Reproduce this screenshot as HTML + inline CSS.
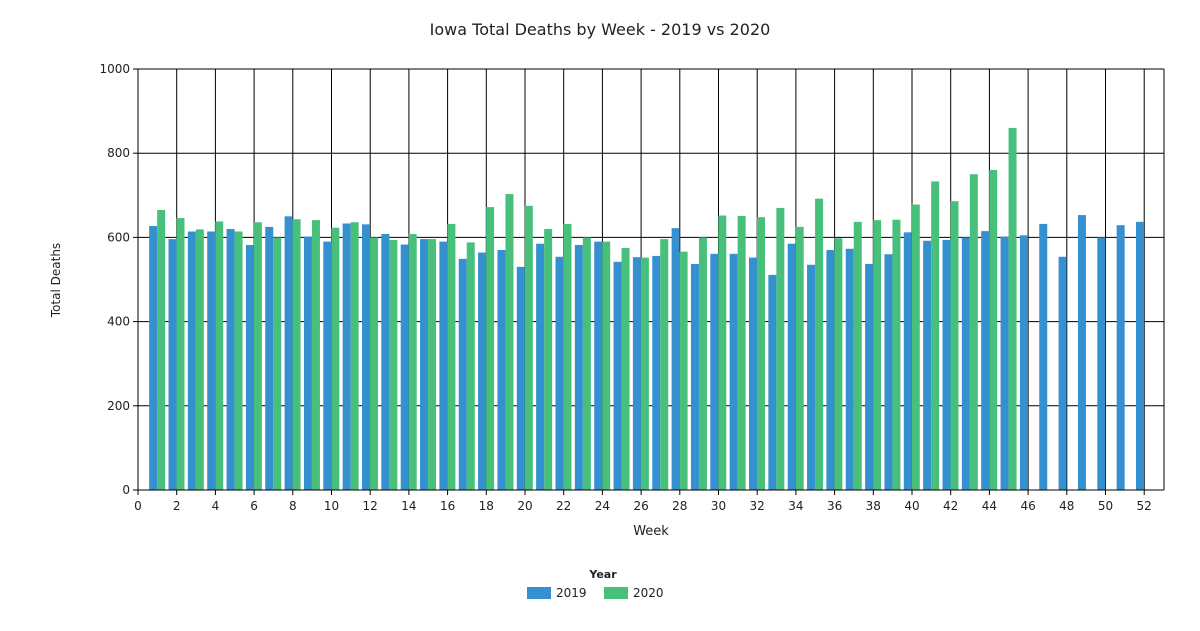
<!DOCTYPE html>
<html><head><style>
body{margin:0;background:#fff;font-family:"DejaVu Sans","Liberation Sans",sans-serif;}
</style></head><body>
<svg id="s" width="1200" height="627" xmlns="http://www.w3.org/2000/svg" font-family="DejaVu Sans, Liberation Sans, sans-serif">
<text x="600" y="35" text-anchor="middle" font-size="16" fill="#222">Iowa Total Deaths by Week - 2019 vs 2020</text>
<text x="60" y="280" text-anchor="middle" font-size="12" fill="#222" transform="rotate(-90 60 280)">Total Deaths</text>
<text x="651" y="535" text-anchor="middle" font-size="13" fill="#222">Week</text>
<text x="603" y="578" text-anchor="middle" font-size="11" font-weight="bold" fill="#222">Year</text>
<rect x="527" y="587" width="24" height="12" fill="#3590d0"/>
<text x="556" y="597" font-size="12" fill="#222">2019</text>
<rect x="604" y="587" width="24" height="12" fill="#48c07c"/>
<text x="633" y="597" font-size="12" fill="#222">2020</text>
<g id="g"></g>
</svg>
<script>
var a=[627,596,614,614,620,582,625,650,602,590,633,631,608,583,596,590,549,564,570,530,585,554,582,590,542,553,556,622,537,561,561,552,511,585,535,570,573,537,560,612,592,594,600,615,602,605,632,554,653,600,629,637];
var b=[665,646,619,638,614,636,600,643,641,623,636,600,594,608,596,632,588,672,703,675,620,632,600,590,575,552,596,566,600,652,651,648,670,625,692,598,637,641,642,678,733,686,750,760,860];
var L=138,R=1164,T=69,B=490,w=19.35;
function Y(v){return B-(v/1000)*(B-T);}
var h='';
for(var v=200;v<=1000;v+=200){h+='<line x1="'+L+'" x2="'+R+'" y1="'+Y(v)+'" y2="'+Y(v)+'" stroke="#000"/>';}
for(var k=2;k<=52;k+=2){var x=L+k*w;h+='<line x1="'+x+'" x2="'+x+'" y1="'+T+'" y2="'+B+'" stroke="#000"/>';}
h+='<line x1="'+R+'" x2="'+R+'" y1="'+T+'" y2="'+B+'" stroke="#000"/>';
for(var i=0;i<52;i++){var c=L+(i+1)*w;
h+='<rect x="'+(c-8.2)+'" y="'+Y(a[i])+'" width="8" height="'+(B-Y(a[i]))+'" fill="#3590d0"/>';
if(i<b.length)h+='<rect x="'+(c-0.2)+'" y="'+Y(b[i])+'" width="8" height="'+(B-Y(b[i]))+'" fill="#48c07c"/>';}
h+='<line x1="'+L+'" x2="'+L+'" y1="'+T+'" y2="'+B+'" stroke="#000"/>';
h+='<line x1="'+L+'" x2="'+R+'" y1="'+B+'" y2="'+B+'" stroke="#000"/>';
for(var v=0;v<=1000;v+=200){h+='<line x1="'+(L-5)+'" x2="'+L+'" y1="'+Y(v)+'" y2="'+Y(v)+'" stroke="#000"/><text x="'+(L-8)+'" y="'+(Y(v)+4)+'" text-anchor="end" font-size="12" fill="#222">'+v+'</text>';}
for(var k=0;k<=52;k+=2){var x=L+k*w;h+='<line x1="'+x+'" x2="'+x+'" y1="'+B+'" y2="'+(B+5)+'" stroke="#000"/><text x="'+x+'" y="'+(B+20)+'" text-anchor="middle" font-size="12" fill="#222">'+k+'</text>';}
document.getElementById('g').innerHTML=h;
</script>
</body></html>
